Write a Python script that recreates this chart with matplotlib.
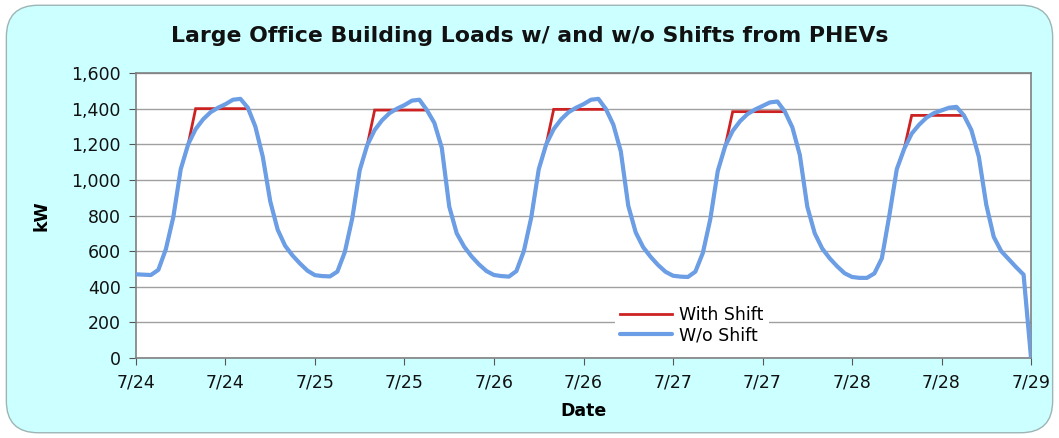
import numpy as np
import matplotlib
matplotlib.use('Agg')
import matplotlib.pyplot as plt
from matplotlib.patches import FancyBboxPatch

# hourly load without shift, kW (hour 0..23 of each day)
day1 = [470, 468, 466, 495, 610, 790, 1060, 1200, 1285, 1340, 1380, 1405, 1425, 1450,
        1455, 1405, 1300, 1130, 880, 720, 630, 575, 530, 490]
day2 = [465, 460, 458, 485, 595, 785, 1055, 1195, 1280, 1335, 1375, 1400, 1420, 1445,
        1450, 1392, 1320, 1180, 850, 700, 625, 570, 525, 488]
day3 = [466, 460, 457, 488, 600, 790, 1060, 1200, 1285, 1340, 1380, 1405, 1425, 1450,
        1455, 1398, 1310, 1160, 855, 705, 622, 568, 522, 484]
day4 = [462, 457, 455, 485, 590, 780, 1050, 1190, 1275, 1330, 1370, 1395, 1415, 1435,
        1440, 1383, 1295, 1140, 850, 700, 615, 560, 515, 476]
day5 = [455, 450, 450, 475, 560, 800, 1060, 1175, 1260, 1310, 1350, 1375, 1390, 1405,
        1410, 1362, 1280, 1130, 860, 680, 600, 555, 510, 468]
end_value = [0]

# peak cap with PHEV shift (kW), hours 8..15 of each day
shift_cap = [1400, 1392, 1396, 1383, 1362]
shift_start, shift_end = 8, 15

tick_labels = ['7/24', '7/24', '7/25', '7/25', '7/26', '7/26',
               '7/27', '7/27', '7/28', '7/28', '7/29']

wo_shift = np.array(day1 + day2 + day3 + day4 + day5 + end_value, dtype=float)
with_shift = wo_shift.copy()
for d, cap in enumerate(shift_cap):
    with_shift[d * 24 + shift_start: d * 24 + shift_end + 1] = cap
hours = np.arange(len(wo_shift))

plt.rcParams['font.family'] = ['DejaVu Sans']

fig = plt.figure(figsize=(10.59, 4.38), dpi=100, facecolor='white')
bg = FancyBboxPatch((0.006, 0.012), 0.988, 0.976, boxstyle='round,pad=0,rounding_size=0.03',
                    transform=fig.transFigure, facecolor='#CCFFFF', edgecolor='#9DB5B5',
                    linewidth=1.0, mutation_aspect=10.59 / 4.38, zorder=-10)
fig.patches.append(bg)

ax = fig.add_axes([0.1284, 0.1826, 0.8452, 0.6507])
ax.set_zorder(1)
ax.set_facecolor('white')

ax.plot(hours, with_shift, color='#CC2222', linewidth=2.0, label='With Shift', zorder=3,
        solid_joinstyle='miter')
ax.plot(hours, wo_shift, color='#6C9EE6', linewidth=3.0, label='W/o Shift', zorder=4,
        solid_joinstyle='round', solid_capstyle='round')

ax.set_xlim(0, 120)
ax.set_ylim(0, 1600)
ax.set_xticks(np.arange(0, 121, 12))
ax.set_xticklabels(tick_labels)
ax.set_yticks(np.arange(0, 1601, 200))
ax.set_yticklabels(['{:,}'.format(v) for v in range(0, 1601, 200)])
ax.yaxis.grid(True, color='#A0A0A0', linewidth=1.0)
ax.set_axisbelow(True)
ax.tick_params(axis='both', labelsize=12.5, colors='#555555', length=5, width=0.8, pad=6)
ax.tick_params(axis='both', labelcolor='#111111')
for s in ax.spines.values():
    s.set_color('#808080')
    s.set_linewidth(1.2)

ax.set_xlabel('Date', fontsize=12.5, fontweight='bold', labelpad=8)
ax.set_ylabel('kW', fontsize=12.5, fontweight='bold', labelpad=15)
fig.text(0.5, 0.918, 'Large Office Building Loads w/ and w/o Shifts from PHEVs',
         ha='center', va='center', fontsize=15.8, fontweight='bold', color='#111111')

leg = ax.legend(loc='lower left', bbox_to_anchor=(0.535, 0.03), frameon=True,
                fontsize=12.5, handlelength=3.0, handletextpad=0.4, labelspacing=0.15,
                borderpad=0.3, borderaxespad=0)
leg.get_frame().set_edgecolor('none')
leg.get_frame().set_facecolor('white')
leg.get_frame().set_alpha(1.0)

fig.savefig('out.png', dpi=100, facecolor=fig.get_facecolor())
